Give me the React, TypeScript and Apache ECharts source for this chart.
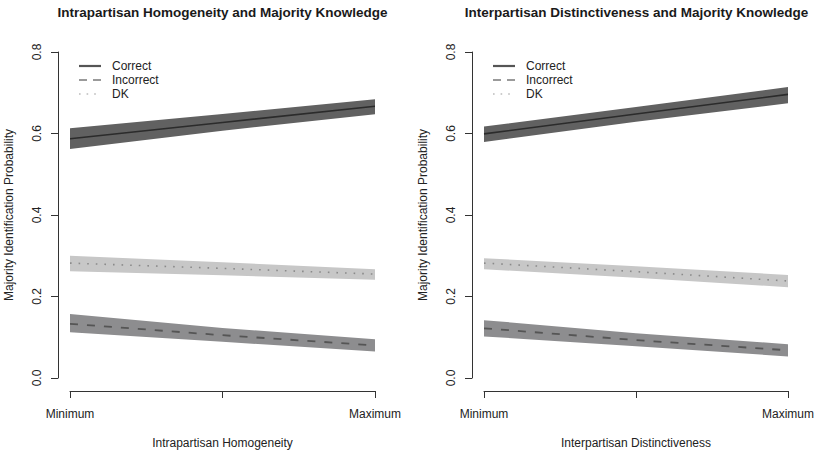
import React, { useEffect, useRef } from "react";
import * as echarts from "echarts";

// Predictor scale positions (minimum, midpoint, maximum)
const xPoints = [0, 0.5, 1];
const xTickLabels: Record<string, string> = { "0": "Minimum", "1": "Maximum" };

const panelTitles = [
  "Intrapartisan Homogeneity and Majority Knowledge",
  "Interpartisan Distinctiveness and Majority Knowledge",
];
const xAxisNames = ["Intrapartisan Homogeneity", "Interpartisan Distinctiveness"];
const yAxisName = "Majority Identification Probability";
const legendLabels = ["Correct", "Incorrect", "DK"];

// Panel 1: intrapartisan homogeneity
const homCorrect = [0.587, 0.627, 0.667];
const homCorrectLo = [0.562, 0.607, 0.647];
const homCorrectHi = [0.613, 0.648, 0.684];
const homIncorrect = [0.133, 0.105, 0.08];
const homIncorrectLo = [0.112, 0.089, 0.065];
const homIncorrectHi = [0.157, 0.123, 0.095];
const homDK = [0.282, 0.269, 0.255];
const homDKLo = [0.262, 0.252, 0.241];
const homDKHi = [0.3, 0.284, 0.267];

// Panel 2: interpartisan distinctiveness
const disCorrect = [0.599, 0.648, 0.696];
const disCorrectLo = [0.579, 0.629, 0.674];
const disCorrectHi = [0.617, 0.665, 0.714];
const disIncorrect = [0.122, 0.093, 0.068];
const disIncorrectLo = [0.102, 0.078, 0.053];
const disIncorrectHi = [0.142, 0.11, 0.083];
const disDK = [0.282, 0.261, 0.238];
const disDKLo = [0.267, 0.246, 0.223];
const disDKHi = [0.294, 0.274, 0.253];

const panels = [
  {
    correct: [homCorrect, homCorrectLo, homCorrectHi],
    incorrect: [homIncorrect, homIncorrectLo, homIncorrectHi],
    dk: [homDK, homDKLo, homDKHi],
  },
  {
    correct: [disCorrect, disCorrectLo, disCorrectHi],
    incorrect: [disIncorrect, disIncorrectLo, disIncorrectHi],
    dk: [disDK, disDKLo, disDKHi],
  },
];

const FONT = "'Liberation Sans', Arial, Helvetica, sans-serif";
const TEXT = "#222";

const gridLefts = [70, 484];
const gridWidth = 305;
const gridTop = 52;
const gridHeight = 330;

const bandFill = { correct: "#616161", incorrect: "#8d8d8f", dk: "#c7c7c7" };
const lineStyles = {
  correct: { color: "#2b2b2b", width: 1.6, type: "solid" as any },
  incorrect: { color: "#555555", width: 1.8, type: [8, 9] as any },
  dk: { color: "#8a8a8a", width: 1.6, type: [1.6, 7] as any },
};
const legendStyles = [
  { color: "#555555", width: 2.2, lineDash: null },
  { color: "#9a9a9a", width: 2.2, lineDash: [8, 6] },
  { color: "#cccccc", width: 2.2, lineDash: [1.6, 6] },
];

function bandSeries(idx: number, lo: number[], hi: number[], fill: string) {
  return {
    type: "custom",
    xAxisIndex: idx,
    yAxisIndex: idx,
    silent: true,
    data: xPoints.map((x, i) => [x, lo[i], hi[i]]),
    encode: { x: 0, y: [1, 2] },
    renderItem: (params: any, api: any) => {
      if (params.dataIndex !== 0) return null;
      const upper = xPoints.map((x, i) => api.coord([x, hi[i]]));
      const lower = xPoints.map((x, i) => api.coord([x, lo[i]])).reverse();
      return {
        type: "polygon",
        shape: { points: upper.concat(lower) },
        style: { fill },
      };
    },
    z: 1,
  };
}

function lineSeries(idx: number, ys: number[], style: any) {
  return {
    type: "line",
    xAxisIndex: idx,
    yAxisIndex: idx,
    data: xPoints.map((x, i) => [x, ys[i]]),
    symbol: "none",
    silent: true,
    lineStyle: style,
    z: 3,
  };
}

export default function App() {
  const ref = useRef<HTMLDivElement>(null);

  useEffect(() => {
    if (!ref.current) return;
    const chart = echarts.init(ref.current, undefined, { renderer: "svg" });

    const grid = gridLefts.map((left) => ({
      left,
      top: gridTop,
      width: gridWidth,
      height: gridHeight,
    }));

    const xAxis = gridLefts.map((_, i) => ({
      type: "value",
      gridIndex: i,
      min: 0,
      max: 1,
      interval: 0.5,
      position: "bottom",
      offset: 13,
      name: xAxisNames[i],
      nameLocation: "middle",
      nameGap: 46,
      nameTextStyle: { fontFamily: FONT, fontSize: 12, color: TEXT },
      axisLine: { show: true, onZero: false, lineStyle: { color: "#333", width: 1 } },
      axisTick: { show: true, length: 7, lineStyle: { color: "#333", width: 1 } },
      axisLabel: {
        fontFamily: FONT,
        fontSize: 12,
        color: TEXT,
        margin: 17,
        formatter: (v: number) => xTickLabels[String(v)] ?? "",
      },
      splitLine: { show: false },
    }));

    const yAxis = gridLefts.map((_, i) => ({
      type: "value",
      gridIndex: i,
      min: 0,
      max: 0.8,
      interval: 0.2,
      position: "left",
      offset: 12,
      name: yAxisName,
      nameLocation: "middle",
      nameGap: 43,
      nameTextStyle: { fontFamily: FONT, fontSize: 12, color: TEXT },
      axisLine: { show: true, onZero: false, lineStyle: { color: "#333", width: 1 } },
      axisTick: { show: true, length: 7, lineStyle: { color: "#333", width: 1 } },
      axisLabel: {
        fontFamily: FONT,
        fontSize: 12,
        color: TEXT,
        rotate: 90,
        margin: 15,
        formatter: (v: number) => v.toFixed(1),
      },
      splitLine: { show: false },
    }));

    const series: any[] = [];
    panels.forEach((p, i) => {
      series.push(bandSeries(i, p.correct[1], p.correct[2], bandFill.correct));
      series.push(bandSeries(i, p.incorrect[1], p.incorrect[2], bandFill.incorrect));
      series.push(bandSeries(i, p.dk[1], p.dk[2], bandFill.dk));
      series.push(lineSeries(i, p.correct[0], lineStyles.correct));
      series.push(lineSeries(i, p.incorrect[0], lineStyles.incorrect));
      series.push(lineSeries(i, p.dk[0], lineStyles.dk));
    });

    const graphic: any[] = [];
    gridLefts.forEach((left, i) => {
      graphic.push({
        type: "text",
        x: left + gridWidth / 2,
        y: 12,
        style: {
          text: panelTitles[i],
          font: `bold 13.5px ${FONT}`,
          fill: "#1a1a1a",
          textAlign: "center",
          textVerticalAlign: "middle",
        },
      });
      legendLabels.forEach((label, k) => {
        const ly = 66 + k * 14;
        const ls = legendStyles[k];
        graphic.push({
          type: "line",
          shape: { x1: left + 9, y1: ly, x2: left + 31, y2: ly },
          style: {
            stroke: ls.color,
            lineWidth: ls.width,
            lineDash: ls.lineDash || undefined,
          },
        });
        graphic.push({
          type: "text",
          x: left + 42,
          y: ly,
          style: {
            text: label,
            font: `12px ${FONT}`,
            fill: TEXT,
            textAlign: "left",
            textVerticalAlign: "middle",
          },
        });
      });
    });

    chart.setOption({
      animation: false,
      backgroundColor: "#ffffff",
      grid,
      xAxis,
      yAxis,
      series,
      graphic,
    });

    return () => chart.dispose();
  }, []);

  return (
    <div
      ref={ref}
      style={{ position: "fixed", left: 0, top: 0, width: 817, height: 454 }}
    />
  );
}
